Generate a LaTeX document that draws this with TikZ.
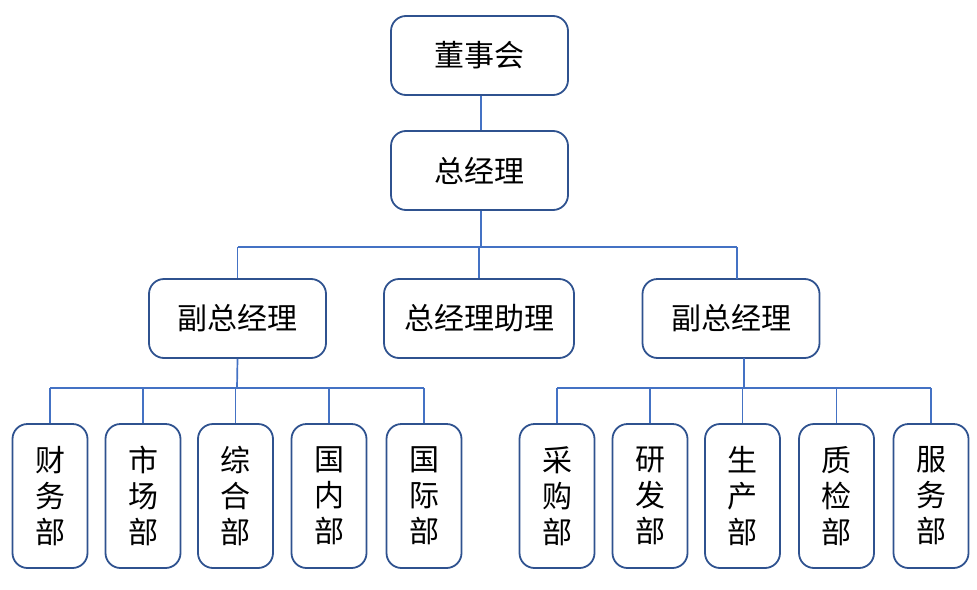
\documentclass[tikz,border=0pt]{standalone}
\usepackage{fontspec}
\newfontfamily\cjk{Noto Sans CJK SC}
\definecolor{boxc}{HTML}{2F528F}
\definecolor{linec}{HTML}{4472C4}
\begin{document}
\begin{tikzpicture}[x=1pt,y=-1pt,
  box/.style={draw=boxc,line width=1.8pt,rounded corners=15pt,fill=white,
    minimum width=177pt,minimum height=79pt,inner sep=0pt,
    font=\cjk\fontsize{30}{34}\selectfont},
  dept/.style={draw=boxc,line width=1.8pt,rounded corners=15pt,fill=white,
    minimum width=75pt,minimum height=144pt,inner sep=0pt,align=center,
    font=\cjk\fontsize{30}{36}\selectfont},
  conn/.style={draw=linec,line width=1.7pt}]
\useasboundingbox (0,0) rectangle (977,589);
\node[box] (board) at (479.5,55.5) {董事会};
\node[box] (gm) at (479.5,170.5) {总经理};
\node[box] (vp1) at (237.5,318.5) {副总经理};
\node[box,minimum width=190pt] (asst) at (479,318.5) {总经理助理};
\node[box] (vp2) at (731,318.5) {副总经理};
\node[dept] (d1) at (50,496) {财\\务\\部};
\node[dept] (d2) at (143,496) {市\\场\\部};
\node[dept] (d3) at (235.5,496) {综\\合\\部};
\node[dept] (d4) at (329,496) {国\\内\\部};
\node[dept] (d5) at (424,496) {国\\际\\部};
\node[dept] (d6) at (557,496) {采\\购\\部};
\node[dept] (d7) at (650,496) {研\\发\\部};
\node[dept] (d8) at (742.5,496) {生\\产\\部};
\node[dept] (d9) at (836.5,496) {质\\检\\部};
\node[dept] (d10) at (931,496) {服\\务\\部};
\coordinate (bus0) at (481,247);
\coordinate (bus1) at (237,388);
\coordinate (bus2) at (744,388);
\coordinate (vp2top) at (737,279);
\coordinate (vp2bot) at (744,358);
\draw[conn] ([xshift=1.5pt]board.south) -- ([xshift=1.5pt]gm.north);
\draw[conn] ([xshift=1.5pt]gm.south) -- (bus0);
\draw[conn] (vp1.north |- bus0) -- (vp2top |- bus0);
\draw[conn] (vp1.north) -- (vp1.north |- bus0);
\draw[conn] (asst.north) -- (asst.north |- bus0);
\draw[conn] (vp2top) -- (vp2top |- bus0);
\draw[conn] (vp1.south) -- (bus1);
\draw[conn] (d1.north |- bus1) -- (d5.north |- bus1);
\foreach \d in {d1,d2,d3,d4,d5}{\draw[conn] (\d.north) -- (\d.north |- bus1);}
\draw[conn] (vp2bot) -- (bus2);
\draw[conn] (d6.north |- bus2) -- (d10.north |- bus2);
\foreach \d in {d6,d7,d8,d9,d10}{\draw[conn] (\d.north) -- (\d.north |- bus2);}
\end{tikzpicture}
\end{document}
